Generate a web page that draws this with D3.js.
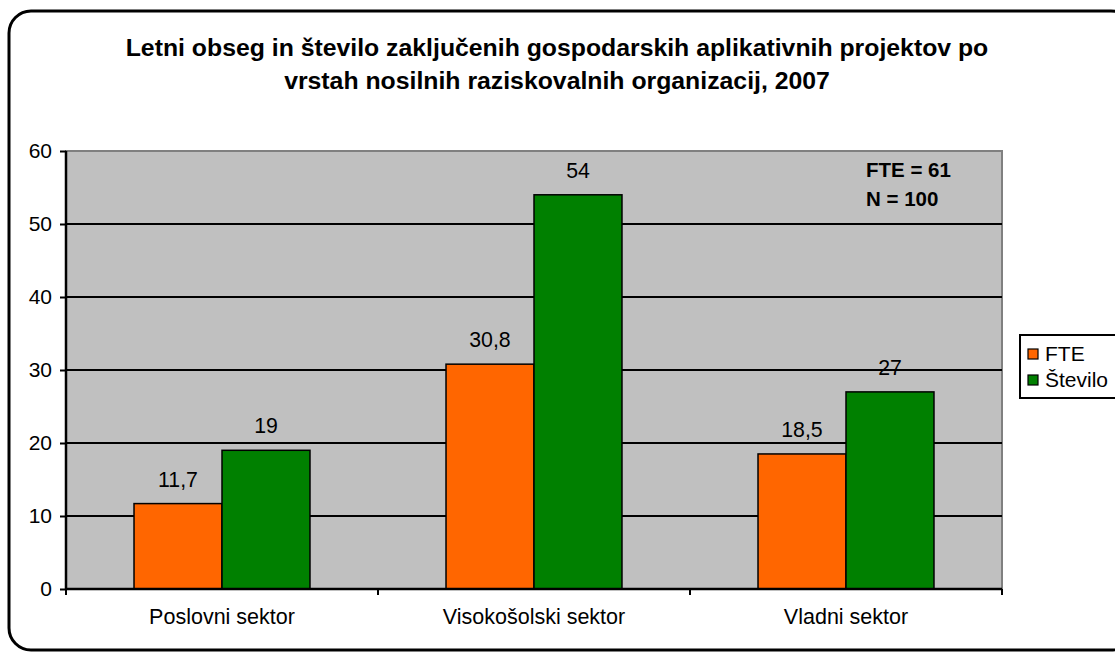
<!DOCTYPE html>
<html>
<head>
<meta charset="utf-8">
<script src="https://cdn.jsdelivr.net/npm/d3@7"></script>
<style>
  html, body { margin: 0; padding: 0; background: #fff; }
  svg { display: block; font-family: "Liberation Sans", Arial, sans-serif; }
</style>
</head>
<body>
<svg id="chart" width="1115" height="652"></svg>
<script>
// Data
const categories = ["Poslovni sektor", "Visokošolski sektor", "Vladni sektor"];
const seriesNames = ["FTE", "Število"];
const fteValues = [11.7, 30.8, 18.5];
const steviloValues = [19, 54, 27];
const fteLabels = ["11,7", "30,8", "18,5"];
const steviloLabels = ["19", "54", "27"];
const yTicks = [0, 10, 20, 30, 40, 50, 60];
const titleLines = [
  "Letni obseg in število zaključenih gospodarskih aplikativnih projektov po",
  "vrstah nosilnih raziskovalnih organizacij, 2007"
];
const noteLines = ["FTE = 61", "N = 100"];

const colors = ["#FF6600", "#008000"];
const FONT = "Liberation Sans, Arial, sans-serif";

const svg = d3.select("#chart");

// Outer rounded frame
svg.append("rect")
  .attr("x", 9).attr("y", 11)
  .attr("width", 1124).attr("height", 639)
  .attr("rx", 22).attr("ry", 22)
  .attr("fill", "#fff")
  .attr("stroke", "#000")
  .attr("stroke-width", 3);

// Title
svg.append("g").selectAll("text")
  .data(titleLines)
  .join("text")
  .attr("x", 557)
  .attr("y", (d, i) => 56 + i * 33)
  .attr("text-anchor", "middle")
  .attr("font-size", 24.8)
  .attr("font-weight", "bold")
  .text(d => d);

// Plot area
const plot = { left: 66, top: 151, right: 1002, bottom: 589 };

const x0 = d3.scaleBand()
  .domain(categories)
  .range([plot.left, plot.right])
  .paddingInner(0)
  .paddingOuter(0);

const x1 = d3.scaleBand()
  .domain(seriesNames)
  .range([0, x0.bandwidth()])
  .paddingInner(0)
  .paddingOuter(0.773);

const y = d3.scaleLinear()
  .domain([0, 60])
  .range([plot.bottom, plot.top]);

svg.append("rect")
  .attr("x", plot.left).attr("y", plot.top)
  .attr("width", plot.right - plot.left)
  .attr("height", plot.bottom - plot.top)
  .attr("fill", "#C0C0C0")
  .attr("stroke", "#808080")
  .attr("stroke-width", 2);

// Horizontal gridlines
svg.append("g").selectAll("line")
  .data(yTicks.filter(t => t > 0 && t < 60))
  .join("line")
  .attr("x1", plot.left).attr("x2", plot.right)
  .attr("y1", d => y(d)).attr("y2", d => y(d))
  .attr("stroke", "#000")
  .attr("stroke-width", 2);

// Bars
const rows = categories.map((c, i) => ({
  cat: c,
  vals: [
    { s: seriesNames[0], v: fteValues[i], label: fteLabels[i] },
    { s: seriesNames[1], v: steviloValues[i], label: steviloLabels[i] }
  ]
}));

const groups = svg.append("g").selectAll("g")
  .data(rows)
  .join("g")
  .attr("transform", d => `translate(${x0(d.cat)},0)`);

groups.selectAll("rect")
  .data(d => d.vals)
  .join("rect")
  .attr("x", d => x1(d.s))
  .attr("y", d => y(d.v))
  .attr("width", x1.bandwidth())
  .attr("height", d => y(0) - y(d.v))
  .attr("fill", (d, i) => colors[i])
  .attr("stroke", "#000")
  .attr("stroke-width", 1.5);

groups.selectAll("text")
  .data(d => d.vals)
  .join("text")
  .attr("x", d => x1(d.s) + x1.bandwidth() / 2)
  .attr("y", d => y(d.v) - 17)
  .attr("text-anchor", "middle")
  .attr("font-size", 21.3)
  .attr("fill", "#000")
  .text(d => d.label);

// Y axis
const yAxis = d3.axisLeft(y).tickValues(yTicks).tickSize(6).tickPadding(8);
const gy = svg.append("g")
  .attr("transform", `translate(${plot.left},0)`)
  .call(yAxis);
gy.select(".domain").attr("stroke", "#000").attr("stroke-width", 2.5)
  .attr("d", `M0,${plot.top}V${plot.bottom}`);
gy.selectAll(".tick line").attr("stroke", "#000").attr("stroke-width", 2);
gy.selectAll(".tick text")
  .attr("font-size", 21)
  .attr("font-family", FONT)
  .attr("fill", "#000");

// X axis
const xAxis = d3.axisBottom(x0).tickSize(0).tickPadding(20);
const gx = svg.append("g")
  .attr("transform", `translate(0,${plot.bottom})`)
  .call(xAxis);
gx.select(".domain").attr("stroke", "#000").attr("stroke-width", 2.5)
  .attr("d", `M${plot.left},0H${plot.right}`);
gx.selectAll(".tick text")
  .attr("font-size", 21.5)
  .attr("font-family", FONT)
  .attr("fill", "#000");

// Category boundary tick marks below the axis
const boundaries = categories.map(c => x0(c)).concat([plot.right]);
svg.append("g").selectAll("line")
  .data(boundaries)
  .join("line")
  .attr("x1", d => d).attr("x2", d => d)
  .attr("y1", plot.bottom).attr("y2", plot.bottom + 6)
  .attr("stroke", "#000")
  .attr("stroke-width", 2);

// Summary note
svg.append("g").selectAll("text")
  .data(noteLines)
  .join("text")
  .attr("x", 866)
  .attr("y", (d, i) => 177 + i * 29)
  .attr("font-size", 20.5)
  .attr("font-weight", "bold")
  .text(d => d);

// Legend
const legend = svg.append("g");
legend.append("rect")
  .attr("x", 1020).attr("y", 335)
  .attr("width", 100).attr("height", 63)
  .attr("fill", "#fff")
  .attr("stroke", "#000")
  .attr("stroke-width", 2);

const items = legend.selectAll("g")
  .data(seriesNames)
  .join("g")
  .attr("transform", (d, i) => `translate(0,${i * 26})`);

items.append("rect")
  .attr("x", 1028).attr("y", 349)
  .attr("width", 10).attr("height", 10)
  .attr("fill", (d, i) => colors[i])
  .attr("stroke", "#000")
  .attr("stroke-width", 1.2);

items.append("text")
  .attr("x", 1045).attr("y", 361)
  .attr("font-size", 21)
  .text(d => d);
</script>
</body>
</html>
